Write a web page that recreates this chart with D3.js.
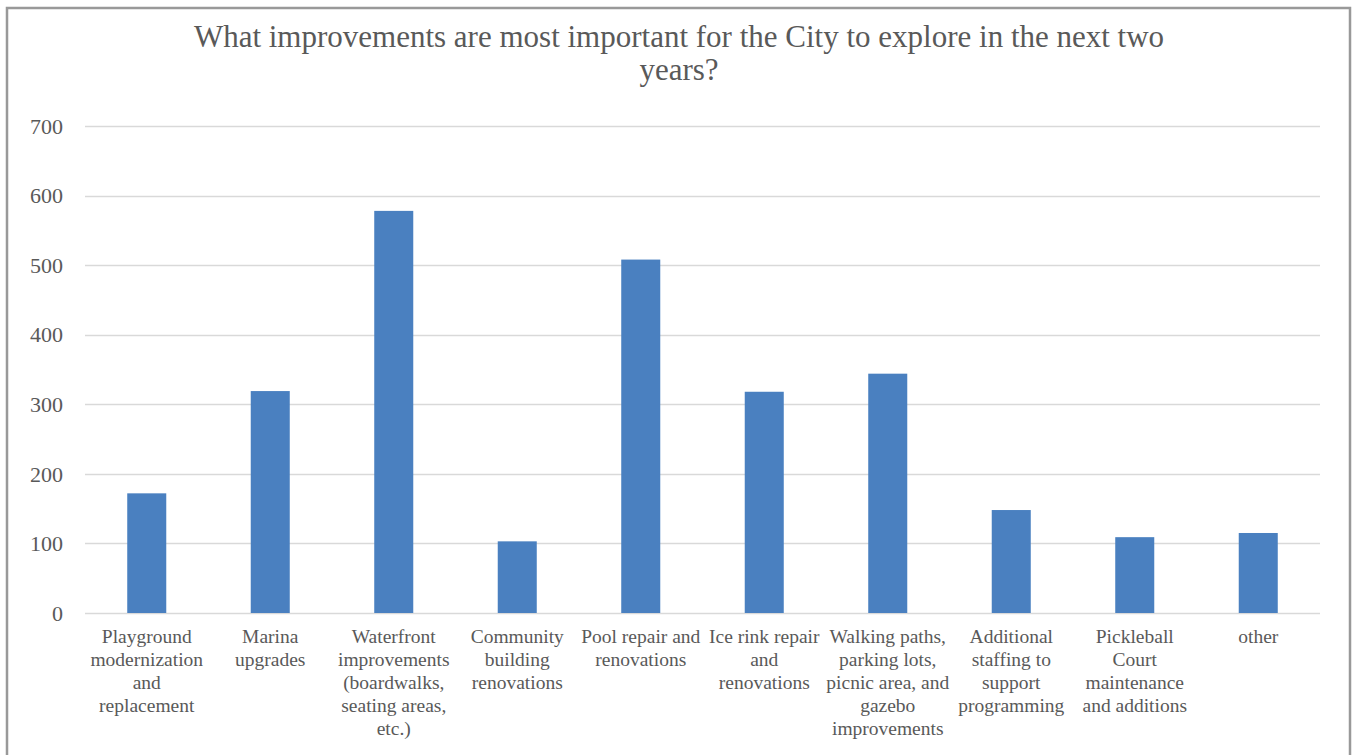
<!DOCTYPE html>
<html>
<head>
<meta charset="utf-8">
<script src="https://cdn.jsdelivr.net/npm/d3@7"></script>
<style>
  body { margin: 0; background: #fff; }
  svg { display: block; }
</style>
</head>
<body>
<div id="chart"></div>
<script>
// Survey answers
var categories = [
    "Playground modernization and replacement",
    "Marina upgrades",
    "Waterfront improvements (boardwalks, seating areas, etc.)",
    "Community building renovations",
    "Pool repair and renovations",
    "Ice rink repair and renovations",
    "Walking paths, parking lots, picnic area, and gazebo improvements",
    "Additional staffing to support programming",
    "Pickleball Court maintenance and additions",
    "other"
];
// how each label wraps under its bar
var labelLines = [
    ["Playground", "modernization", "and", "replacement"],
    ["Marina", "upgrades"],
    ["Waterfront", "improvements", "(boardwalks,", "seating areas,", "etc.)"],
    ["Community", "building", "renovations"],
    ["Pool repair and", "renovations"],
    ["Ice rink repair", "and", "renovations"],
    ["Walking paths,", "parking lots,", "picnic area, and", "gazebo", "improvements"],
    ["Additional", "staffing to", "support", "programming"],
    ["Pickleball", "Court", "maintenance", "and additions"],
    ["other"]
];
var counts = [172, 319, 578, 103, 508, 318, 344, 148, 109, 115];
var yTicks = [0, 100, 200, 300, 400, 500, 600, 700];
var title = ["What improvements are most important for the City to explore in the next two", "years?"];

var width = 1352;
var height = 755;
var margin = { top: 126, right: 32, bottom: 142, left: 85 };
var font = "'Liberation Serif', 'Times New Roman', serif";
var textColour = "#595959";

const svg = d3.select("#chart")
    .append("svg")
    .attr("width", width)
    .attr("height", height);

// outer frame (bottom edge runs off the picture)
svg.append("rect")
    .attr("x", 7)
    .attr("y", 8)
    .attr("width", 1343)
    .attr("height", 770)
    .attr("fill", "none")
    .attr("stroke", "#999")
    .attr("stroke-width", 2.5);

var x = d3.scaleBand()
    .domain(categories)
    .range([margin.left, width - margin.right])
    .paddingInner(0.684)
    .paddingOuter(0.342);

var y = d3.scaleLinear()
    .domain([0, 700])
    .range([height - margin.bottom, margin.top]);

// gridlines
svg.append("g")
    .selectAll("line")
    .data(yTicks)
    .join("line")
    .attr("x1", margin.left)
    .attr("x2", width - margin.right)
    .attr("y1", d => Math.round(y(d)) + 0.5)
    .attr("y2", d => Math.round(y(d)) + 0.5)
    .attr("stroke", "#d9d9d9")
    .attr("stroke-width", 1.6);

// y tick labels
svg.append("g")
    .attr("font-family", font)
    .attr("font-size", 22)
    .attr("fill", textColour)
    .selectAll("text")
    .data(yTicks)
    .join("text")
    .attr("x", 63)
    .attr("y", d => y(d))
    .attr("dy", "0.35em")
    .attr("text-anchor", "end")
    .text(d => d);

// bars
svg.append("g")
    .selectAll("rect")
    .data(counts)
    .join("rect")
    .attr("x", (d, i) => x(categories[i]))
    .attr("y", d => y(d))
    .attr("width", x.bandwidth())
    .attr("height", d => y(0) - y(d))
    .attr("fill", "#4a80c0");

// category labels, wrapped
svg.append("g")
    .attr("font-family", font)
    .attr("font-size", 19.5)
    .attr("fill", textColour)
    .attr("text-anchor", "middle")
    .selectAll("text")
    .data(labelLines)
    .join("text")
    .attr("transform", (d, i) => `translate(${x(categories[i]) + x.bandwidth() / 2}, 643)`)
    .selectAll("tspan")
    .data(d => d)
    .join("tspan")
    .attr("x", 0)
    .attr("y", (d, j) => j * 23)
    .text(d => d);

// title
svg.append("g")
    .attr("font-family", font)
    .attr("font-size", 31)
    .attr("fill", textColour)
    .attr("text-anchor", "middle")
    .selectAll("text")
    .data(title)
    .join("text")
    .attr("x", 679)
    .attr("y", (d, i) => 47 + i * 33)
    .text(d => d);
</script>
</body>
</html>
